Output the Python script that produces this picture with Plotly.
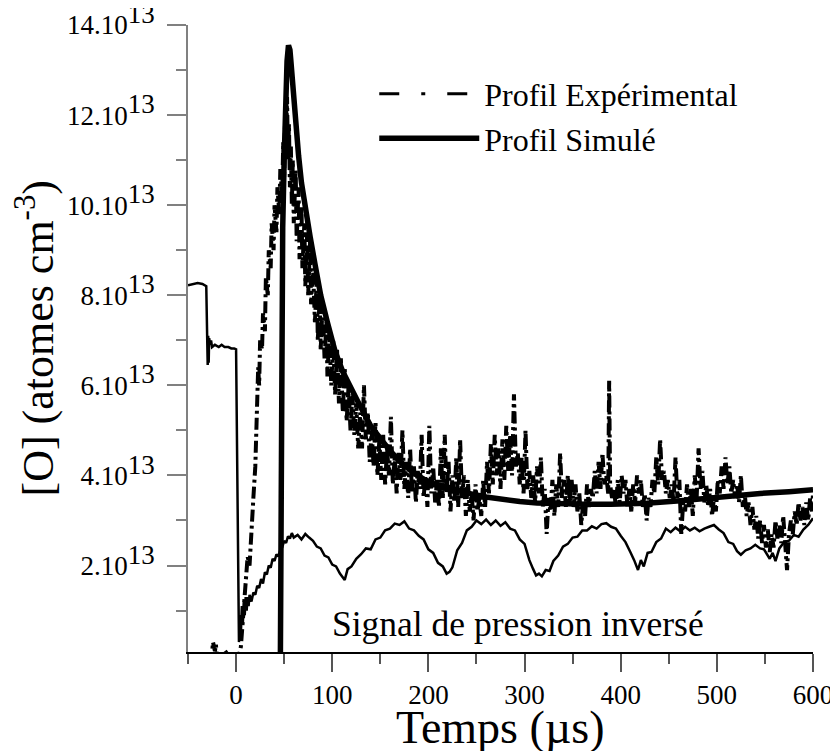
import numpy as np
import plotly.graph_objects as go

SCALE = 1e13  # values below are in units of 10^13 atomes cm^-3

# Inverted pressure signal (thin solid line)
press_x = [-50, -45, -40, -35, -31, -30, -29.5, -29, -28.5, -28, -27, -26, -25, -22, -18, -15, -12, -8, -5, -2, 0,
           3, 4, 5, 6, 7, 8, 9, 10, 11, 12, 13, 14, 16, 18, 20, 22, 24, 26, 28, 30, 32, 34, 36, 38, 40, 42, 44, 46,
           48, 50, 52, 54, 56, 58, 60, 64, 68, 72, 76, 80, 84, 88, 92, 96, 100, 104, 108, 111, 113, 116, 120, 125,
           130, 135, 140, 145, 150, 155, 160, 165, 170, 175, 180, 185, 190, 195, 200, 205, 210, 215, 219, 222, 225,
           230, 235, 240, 245, 250, 255, 260, 265, 270, 275, 280, 285, 290, 295, 300, 305, 309, 312, 315, 318, 322,
           326, 330, 335, 340, 345, 350, 355, 360, 365, 370, 375, 380, 385, 390, 395, 400, 405, 410, 414, 418, 421,
           424, 428, 432, 437, 442, 447, 452, 457, 462, 467, 472, 477, 482, 487, 492, 497, 502, 507, 512, 517, 521,
           525, 530, 535, 540, 545, 549, 552, 555, 558, 561, 565, 570, 575, 580, 585, 590, 595, 600]
press_y = [8.22, 8.25, 8.27, 8.25, 8.2, 7.0, 6.45, 7.1, 6.5, 7.05, 6.9, 7.0, 6.85, 6.9, 6.85, 6.9, 6.85, 6.85, 6.82, 6.82, 6.8,
           0.3, 0.9, 0.5, 1.1, 0.7, 1.2, 0.9, 1.3, 1.0, 1.3, 1.1, 1.35, 1.2, 1.4, 1.35, 1.55, 1.5, 1.7, 1.6, 1.85, 1.8,
           2.0, 1.95, 2.15, 2.1, 2.25, 2.2, 2.35,
           2.4, 2.55, 2.5, 2.65, 2.6, 2.72, 2.62, 2.68, 2.58, 2.7, 2.62, 2.55, 2.42, 2.38, 2.22, 2.18, 2.02, 1.98, 1.82,
           1.72, 1.68, 1.92, 1.98, 2.15, 2.25, 2.38, 2.36, 2.58, 2.62, 2.78, 2.82, 2.93, 2.9, 2.98, 2.82, 2.78, 2.66,
           2.58, 2.36, 2.28, 2.06, 1.98, 1.82, 1.86, 1.96, 2.34, 2.5, 2.78, 2.86, 3.0, 2.92, 3.02, 2.9, 3.0, 2.88,
           2.96, 2.82, 2.78, 2.58, 2.48, 2.12, 1.92, 1.78, 1.82, 1.76, 1.9, 1.88, 2.1, 2.22, 2.42, 2.48, 2.62, 2.64,
           2.78, 2.78, 2.87, 2.82, 2.92, 2.94, 2.86, 2.82, 2.66, 2.52, 2.3, 2.12, 1.9, 2.12, 1.98, 2.28, 2.3, 2.52,
           2.6, 2.82, 2.74, 2.84, 2.76, 2.86, 2.78, 2.84, 2.76, 2.82, 2.86, 2.9, 2.8, 2.72, 2.52, 2.48, 2.32, 2.24,
           2.34, 2.38, 2.46, 2.38, 2.36, 2.26, 2.15, 2.28, 2.1, 2.38, 2.52, 2.55, 2.68, 2.64, 2.8, 2.9, 3.05]

# Experimental O-atom profile (noisy dash-dot line)
exp_x = [-26, -24, -22, -21, -20, -18, -14, -12, -10, -8, -5, 0, 5, 8,
         10, 12, 14, 16, 18, 20, 21, 22, 23, 24, 25, 27, 28, 30, 31, 33, 34, 36, 37, 39, 40, 42, 43, 45, 46, 48,
         49, 50, 51, 52, 53, 54, 55, 56, 57, 58, 59, 60, 62, 63, 65, 66, 68, 69, 71, 72, 74, 75, 77, 78, 80, 82,
         84, 85, 87, 88, 90, 92, 94, 95, 97, 99, 101, 103, 105, 107, 109, 111, 113, 115, 117, 119, 121, 123, 125,
         127, 129, 131, 133, 135, 137, 139, 141, 143, 145, 147, 149, 151, 153, 155, 157, 159, 161, 163, 165, 167,
         169, 171, 173, 175, 177, 179, 181, 183, 185, 187, 189, 191, 193, 195, 197, 199, 201, 203, 205, 207, 209,
         211, 213, 215, 217, 219, 221, 223, 225, 227, 229, 231, 233, 235, 237, 239, 241, 243, 245, 247, 249, 251,
         253, 255, 257, 259, 261, 263, 265, 267, 269, 271, 273, 275, 277, 279, 281, 283, 285, 287, 289, 291, 293,
         295, 297, 299, 301, 303, 305, 307, 309, 311, 313, 315, 317, 319, 321, 323, 325, 327, 329, 331, 333, 335,
         337, 339, 341, 343, 345, 347, 349, 351, 353, 355, 357, 359, 361, 363, 365, 367, 369, 371, 373, 375, 377,
         379, 381, 383, 385, 387, 388, 389, 391, 393, 395, 397, 399, 401, 403, 405, 407, 409, 411, 413, 415, 417,
         419, 421, 423, 425, 427, 429, 431, 433, 435, 437, 439, 441, 443, 445, 447, 449, 451, 453, 455, 457, 459,
         461, 463, 465, 467, 469, 471, 473, 475, 477, 479, 481, 483, 485, 487, 489, 491, 493, 495, 497, 499, 501,
         503, 505, 507, 509, 511, 513, 515, 517, 519, 521, 523, 525, 527, 529, 531, 533, 535, 537, 539, 541, 543,
         545, 547, 549, 551, 553, 555, 557, 559, 561, 563, 565, 567, 569, 571, 573, 575, 577, 579, 581, 583, 585,
         587, 589, 591, 593, 595, 597, 599, 600]
exp_y = [-0.2, 0.3, 0.1, 0.25, 0.0, -0.2, -0.3, 0.12, 0.06, -0.2, -0.3, -0.3, 0.2, 1.0,
         1.6, 2.2, 2.0, 3.0, 3.5, 4.2, 4.8, 5.8, 6.4, 6.0, 7.0, 6.8, 7.6, 7.2, 8.4, 8.0, 9.0, 8.6, 9.6, 9.0, 10.0,
         9.4, 10.4, 9.8, 10.8, 10.2, 11.4, 10.6, 12.0, 11.2, 12.4, 11.0, 11.8, 10.4, 11.3, 10.0, 11.0, 9.6, 10.8,
         9.2, 10.4, 8.8, 10.0, 8.6, 9.6, 8.2, 9.4, 8.0, 9.2, 7.8, 8.6, 7.4, 8.4, 7.0, 8.0, 6.8, 7.8, 6.6, 7.4, 6.2,
         7.2, 6.0, 7.0, 5.8, 6.8, 5.6, 6.6, 5.4, 6.4, 5.2, 6.0, 5.0, 5.8, 4.9, 5.6, 4.6, 5.4, 4.6, 6.0, 4.8, 5.4,
         4.3, 5.0, 4.2, 5.2, 4.0, 4.8, 3.9, 4.9, 3.8, 4.6, 4.0, 5.3, 3.8, 4.4, 3.6, 4.5, 3.9, 5.0, 3.7, 4.3, 3.5,
         4.6, 3.6, 4.2, 3.4, 4.1, 3.7, 4.9, 3.5, 4.0, 3.3, 5.1, 3.6, 4.2, 3.4, 3.9, 3.3, 4.6, 3.5, 4.9, 3.6, 4.3,
         3.2, 4.0, 3.4, 4.4, 3.3, 4.8, 3.5, 4.0, 3.1, 3.9, 3.2, 3.6, 3.0, 3.8, 3.2, 3.5, 3.1, 3.9, 3.3, 4.3, 3.6,
         4.7, 3.8, 4.9, 4.0, 4.6, 3.7, 4.8, 3.9, 5.1, 4.1, 4.9, 4.0, 5.8, 4.2, 4.5, 3.8, 4.4, 3.6, 5.0, 3.7, 4.1,
         3.5, 4.0, 3.4, 4.2, 3.6, 4.4, 3.3, 3.7, 2.7, 3.5, 3.2, 3.9, 3.1, 3.8, 3.3, 4.5, 3.5, 3.9, 3.3, 4.0, 3.4,
         3.9, 3.3, 3.8, 3.2, 3.6, 2.9, 3.4, 3.1, 3.8, 3.3, 3.7, 3.5, 4.1, 3.6, 4.3, 3.7, 4.5, 3.8, 4.0, 3.6, 6.1,
         3.8, 3.5, 3.7, 3.3, 3.9, 3.4, 4.0, 3.6, 3.9, 3.3, 3.7, 3.2, 3.8, 3.4, 4.0, 3.6, 3.9, 3.3, 3.6, 3.0, 3.5,
         3.3, 3.9, 3.6, 4.4, 3.8, 4.8, 3.9, 4.1, 3.6, 3.9, 3.5, 3.8, 3.4, 4.4, 3.5, 3.9, 2.7, 3.4, 3.2, 3.8, 3.3,
         3.7, 3.1, 4.0, 3.5, 4.6, 3.7, 4.1, 3.4, 3.8, 3.3, 3.7, 3.1, 3.5, 3.2, 3.9, 3.6, 4.2, 3.7, 4.4, 3.8, 4.2,
         3.6, 3.9, 3.5, 3.8, 3.4, 4.0, 3.3, 3.6, 3.1, 3.4, 2.9, 3.3, 2.8, 3.1, 2.6, 3.0, 2.5, 2.9, 2.4, 2.8, 2.3,
         2.7, 2.4, 3.0, 2.6, 2.9, 2.5, 3.1, 2.6, 1.9, 2.7, 3.0, 2.7, 3.2, 2.9, 3.4, 3.0, 3.3, 2.9, 3.4, 3.0, 3.5,
         3.2, 3.6]

# Simulated profile (thick solid line)
sim_x = [46, 46.5, 47, 47.5, 48.5, 50, 51.5, 53, 54.5, 56, 57, 58, 60, 62, 65, 68, 72, 77, 82, 88, 95, 103, 111,
         120, 130, 140, 150, 160, 171, 185, 200, 212, 225, 242, 260, 278, 295, 313, 335, 363, 390, 427, 462, 490,
         516, 545, 575, 600]
sim_y = [-0.3, 2.0, 5.0, 7.5, 9.5, 11.0, 12.3, 13.2, 13.55, 13.45, 13.2, 12.9, 12.3, 11.8, 11.1, 10.5, 9.9, 9.3,
         8.7, 8.0, 7.4, 6.75, 6.3, 5.9, 5.5, 5.1, 4.8, 4.55, 4.3, 4.05, 3.85, 3.78, 3.68, 3.6, 3.52, 3.46, 3.42,
         3.39, 3.37, 3.36, 3.36, 3.38, 3.44, 3.5, 3.55, 3.6, 3.64, 3.68]

assert len(press_x) == len(press_y) and len(exp_x) == len(exp_y) and len(sim_x) == len(sim_y)

x_ticks = [0, 100, 200, 300, 400, 500, 600]
y_ticks = [2, 4, 6, 8, 10, 12, 14]
y_ticktext = [f'{v}.10<sup><span style="font-size:27px">13</span></sup>' for v in y_ticks]

FONT = "Liberation Serif, Times New Roman, serif"

fig = go.Figure()
fig.add_trace(go.Scatter(x=press_x, y=np.array(press_y) * SCALE, mode="lines",
                         line=dict(color="black", width=2.5), showlegend=False))
fig.add_trace(go.Scatter(x=exp_x, y=np.array(exp_y) * SCALE, mode="lines",
                         line=dict(color="black", width=4, dash="12px,4px,3px,4px"), showlegend=False))
fig.add_trace(go.Scatter(x=sim_x, y=np.array(sim_y) * SCALE, mode="lines",
                         line=dict(color="black", width=5.5), showlegend=False))
# legend entries
fig.add_trace(go.Scatter(x=[None], y=[None], mode="lines", name="Profil Expérimental",
                         line=dict(color="black", width=3, dash="20px,22px,4px,22px")))
fig.add_trace(go.Scatter(x=[None], y=[None], mode="lines", name="Profil Simulé",
                         line=dict(color="black", width=5.5)))

fig.add_annotation(x=293, y=0.71 * SCALE, text="Signal de pression inversé", showarrow=False,
                   font=dict(family=FONT, size=35.5, color="black"))
# axis titles
fig.add_annotation(x=0.5, y=0, xref="paper", yref="paper", xanchor="center", yanchor="top", yshift=-48,
                   text="Temps (µs)", showarrow=False, font=dict(family=FONT, size=46, color="black"))
fig.add_annotation(x=0, y=0.5, xref="paper", yref="paper", xanchor="center", yanchor="middle", xshift=-153,
                   textangle=-90, text="[O] (atomes cm<sup>-3</sup>)", showarrow=False,
                   font=dict(family=FONT, size=44, color="black"))

# the page body adds an 8 px offset; the figure is sized so that it fills the 838x751 window
fig.update_layout(
    width=830, height=743,
    margin=dict(l=180, r=25, t=17, b=99),
    paper_bgcolor="white", plot_bgcolor="white",
    font=dict(family=FONT, color="black"),
    legend=dict(x=0.298, y=0.934, xanchor="left", yanchor="top", bgcolor="rgba(0,0,0,0)",
                font=dict(family=FONT, size=32, color="black"), itemwidth=100, tracegroupgap=0),
    xaxis=dict(range=[-50, 600], tickvals=x_ticks, ticktext=[str(v) for v in x_ticks], automargin=False,
               showgrid=False, zeroline=False, showline=True, linecolor="black", linewidth=1.5,
               ticks="outside", ticklen=18, tickwidth=1.5, tickcolor="#555555",
               tickfont=dict(family=FONT, size=27, color="black"), ticklabeloverflow="allow",
               minor=dict(dtick=50, tick0=-50, ticklen=10, tickwidth=1.5, tickcolor="#555555", ticks="outside")),
    yaxis=dict(range=[0.08 * SCALE, 14.0005 * SCALE], tickvals=[v * SCALE for v in y_ticks], ticktext=y_ticktext,
               automargin=False, ticklabeloverflow="allow", ticklabelstandoff=7,
               showgrid=False, zeroline=False, showline=True, linecolor="#808080", linewidth=1.5,
               ticks="outside", ticklen=19, tickwidth=1.5, tickcolor="#808080",
               tickfont=dict(family=FONT, size=27, color="black"),
               minor=dict(dtick=SCALE, tick0=SCALE, ticklen=10, tickwidth=1.5, tickcolor="#808080", ticks="outside")),
)

fig.write_html("out.html")
